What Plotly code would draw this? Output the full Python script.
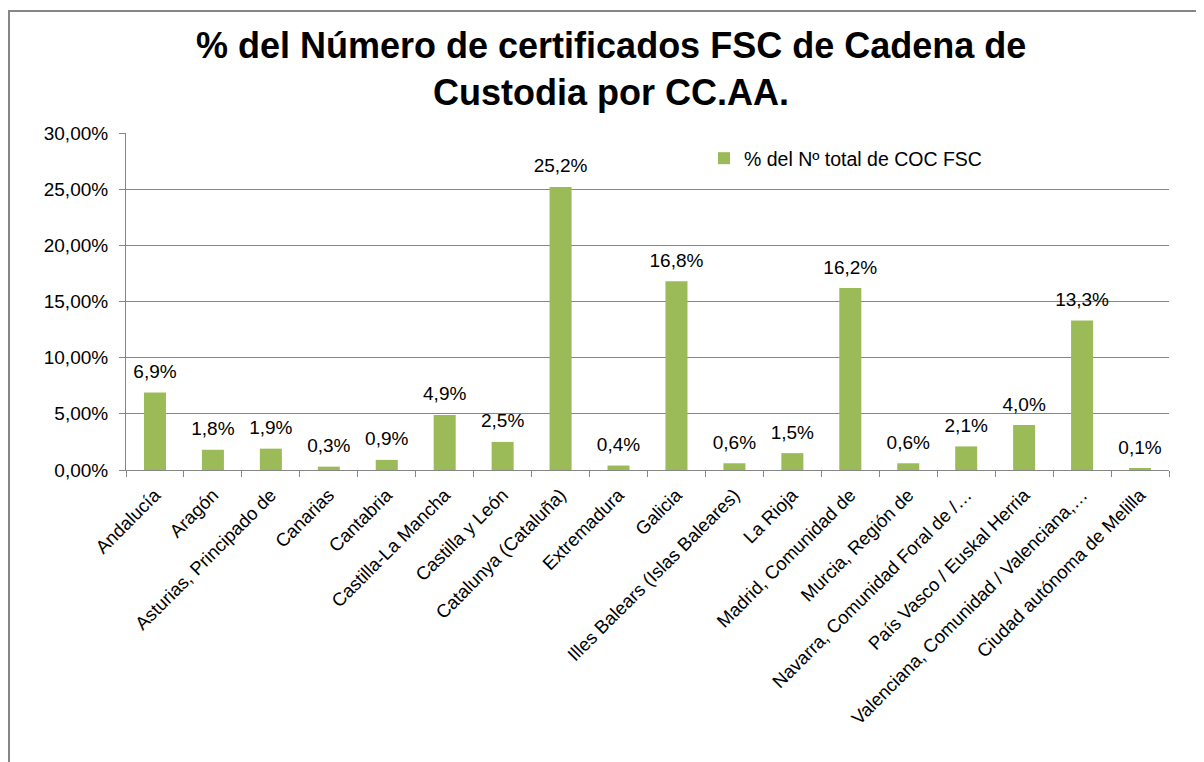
import plotly.graph_objects as go

categories = [
    "Andalucía", "Aragón", "Asturias, Principado de", "Canarias", "Cantabria",
    "Castilla-La Mancha", "Castilla y León", "Catalunya (Cataluña)", "Extremadura",
    "Galicia", "Illes Balears (Islas Baleares)", "La Rioja", "Madrid, Comunidad de",
    "Murcia, Región de", "Navarra, Comunidad Foral de /…", "País Vasco / Euskal Herria",
    "Valenciana, Comunidad / Valenciana,…", "Ciudad autónoma de Melilla",
]
values = [0.069, 0.018, 0.019, 0.003, 0.009, 0.049, 0.025, 0.252, 0.004,
          0.168, 0.006, 0.015, 0.162, 0.006, 0.021, 0.040, 0.133, 0.001]
series_name = "% del Nº total de COC FSC"
title_text = "% del Número de certificados FSC de Cadena de<br>Custodia por CC.AA."
y_ticks = [0, 0.05, 0.10, 0.15, 0.20, 0.25, 0.30]

# page body has an 8px margin; figure coordinates below are page coords - 8
W, H = 1196, 754
L, R, T, B = 118, 1196 - 1161, 125, 754 - 462
pw, ph = W - L - R, H - T - B

font = "Liberation Sans, Arial, sans-serif"

fig = go.Figure()
fig.add_trace(go.Bar(
    x=categories, y=values, name=series_name,
    marker=dict(color="#9BBB59", line=dict(width=0)),
    hoverinfo="x+y",
))
fig.add_trace(go.Scatter(
    x=categories, y=values, mode="markers+text",
    text=[f"{v * 100:.1f}%".replace(".", ",") for v in values],
    textposition="top center",
    marker=dict(size=14, color="rgba(0,0,0,0)"),
    textfont=dict(family=font, size=19, color="#000000"),
    showlegend=False, hoverinfo="skip", cliponaxis=False,
))

fig.update_layout(
    width=W, height=H,
    margin=dict(l=L, r=R, t=T, b=B, autoexpand=False),
    paper_bgcolor="white", plot_bgcolor="white",
    separators=",.",
    bargap=0.62,
    showlegend=True,
    legend=dict(x=(696 - L) / pw, y=1 - (131 - T) / ph, xanchor="left", yanchor="top",
                font=dict(family=font, size=19.5, color="#000000"),
                bgcolor="rgba(0,0,0,0)", itemwidth=30),
    xaxis=dict(
        type="category", tickangle=-45, tickson="boundaries",
        range=[-0.5, len(categories) - 0.5],
        ticks="outside", ticklen=6, tickcolor="#868686",
        showline=True, linecolor="#868686", linewidth=1,
        showgrid=False, ticklabelstandoff=6,
        tickfont=dict(family=font, size=18.5, color="#000000"),
    ),
    yaxis=dict(
        range=[0, 0.30], tickvals=y_ticks, tickformat=".2%",
        ticks="outside", ticklen=6, tickcolor="#868686",
        showline=True, linecolor="#868686", linewidth=1,
        showgrid=True, gridcolor="#868686", gridwidth=1,
        zeroline=False, ticklabelstandoff=7,
        tickfont=dict(family=font, size=19, color="#000000"),
    ),
    annotations=[dict(
        text="<b>" + title_text + "</b>", showarrow=False,
        xref="paper", yref="paper",
        x=(603 - L) / pw, y=1 + (T - 61) / ph, xanchor="center", yanchor="middle",
        align="center", font=dict(family=font, size=36, color="#000000"),
    )],
    shapes=[dict(type="rect", xref="paper", yref="paper",
                 x0=(1 - L) / pw, x1=(1230 - L) / pw,
                 y0=-(800 - 462) / ph, y1=1 + (T - 3) / ph,
                 line=dict(color="#868686", width=2), fillcolor="rgba(0,0,0,0)",
                 layer="below")],
)

fig.write_html("out.html")
